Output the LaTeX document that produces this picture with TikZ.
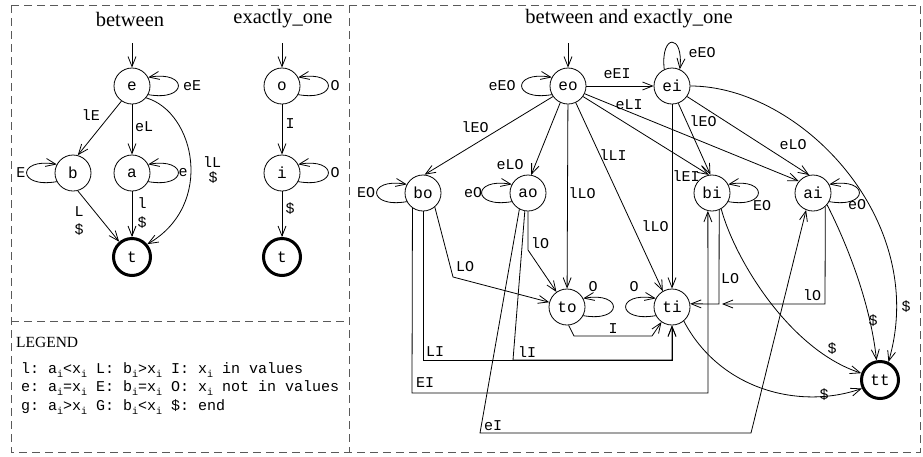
\documentclass[tikz,border=0pt]{standalone}
\usepackage{fontspec}
\setmainfont{Liberation Serif}
\setmonofont{Liberation Mono}
\usetikzlibrary{arrows.meta}
\newcommand\sbi{\raisebox{-0.45ex}{\fontsize{10}{10}\selectfont i}}
\newcommand\loopR[1]{\draw[arr] (#1.-28) .. controls +(40,7) and +(40,-7) .. (#1.28);}
\newcommand\loopL[1]{\draw[arr] (#1.-152) .. controls +(-40,7) and +(-40,-7) .. (#1.152);}
\begin{document}
\begin{tikzpicture}[x=1pt,y=-1pt,
  st/.style={circle,draw,line width=0.8pt,minimum size=36pt,inner sep=0pt,font=\fontsize{16}{16}\selectfont\ttfamily},
  fin/.style={st,line width=3pt,minimum size=37pt},
  lab/.style={inner sep=0pt,font=\fontsize{15}{15}\selectfont\ttfamily},
  ttl/.style={inner sep=0pt,font=\fontsize{20.5}{20.5}\selectfont},
  arr/.style={-{Straight Barb[length=10pt,width=8pt]},line width=0.8pt},
  frame/.style={dash pattern=on 8pt off 5pt,line width=0.9pt,black!65},
]
\useasboundingbox (0,0) rectangle (923,456);
% frame
\draw[frame] (11,5) rectangle (920,452);
\draw[frame] (349,5) -- (349,452);
\draw[frame] (11,321) -- (349,321);
% titles
\node[ttl] (T1) at (130,19) {between};
\node[ttl] (T2) at (283,19) {exactly\_one};
\node[ttl] (T3) at (629,19) {between and exactly\_one};
% left automata
\node[st] (e) at (132,86) {e};
\node[st] (b) at (73,173) {b};
\node[st] (a) at (132,173) {a};
\node[fin] (t) at (132,257) {t};
\node[st] (o) at (282,86) {o};
\node[st] (i) at (282,173) {i};
\node[fin] (t2) at (282,257) {t};
\coordinate (ie) at (132,43);
\coordinate (io) at (282,43);
\draw[arr] (ie) -- (e);
\draw[arr] (io) -- (o);
\loopR{e} \loopL{b} \loopR{a} \loopR{o} \loopR{i}
\draw[arr] (e.-125) -- (b.75);
\draw[arr] (e) -- (a);
\draw[arr] (e.-40) .. controls (195,112) and (215,205) .. (t.40);
\draw[arr] (b.-75) -- (t.130);
\draw[arr] (a) -- (t);
\draw[arr] (o) -- (i);
\draw[arr] (i) -- (t2);
\node[lab] (l1) at (192,86) {eE};
\node[lab] (l2) at (91,115) {lE};
\node[lab] (l3) at (144,127) {eL};
\node[lab] (l4) at (212,162) {lL};
\node[lab] (l5) at (213,178) {\$};
\node[lab] (l6) at (21,173) {E};
\node[lab] (l7) at (183,173) {e};
\node[lab] (l8) at (79,212) {L};
\node[lab] (l9) at (79,230) {\$};
\node[lab] (l10) at (142,203) {l};
\node[lab] (l11) at (142,223) {\$};
\node[lab] (l12) at (335,86) {O};
\node[lab] (l13) at (290,124) {I};
\node[lab] (l14) at (335,173) {O};
\node[lab] (l15) at (290,209) {\$};
% legend
\node[anchor=west,inner sep=0pt,font=\fontsize{15.5}{15.5}\selectfont] (LG) at (16,342) {LEGEND};
\node[lab,anchor=west] (LG1) at (21,370) {l: a\sbi<x\sbi{} L: b\sbi>x\sbi{} I: x\sbi{} in values};
\node[lab,anchor=west] (LG2) at (21,388) {e: a\sbi=x\sbi{} E: b\sbi=x\sbi{} O: x\sbi{} not in values};
\node[lab,anchor=west] (LG3) at (21,407) {g: a\sbi>x\sbi{} G: b\sbi<x\sbi{} \$: end};
% right automaton
\node[st] (eo) at (568,86) {eo};
\node[st] (ei) at (672,86) {ei};
\node[st] (bo) at (423,193) {bo};
\node[st] (ao) at (528,193) {ao};
\node[st] (bi) at (712,193) {bi};
\node[st] (ai) at (813,193) {ai};
\node[st] (to) at (567,307) {to};
\node[st] (ti) at (672,307) {ti};
\node[fin] (tt) at (880,380) {tt};
\coordinate (ieo) at (568,43);
\draw[arr] (ieo) -- (eo);
\loopL{eo} \loopL{bo} \loopL{ao} \loopR{bi} \loopR{ai} \loopR{to} \loopL{ti}
\draw[arr] (ei.115) .. controls +(-4,-36) and +(4,-36) .. (ei.65);
\draw[arr] (eo) -- (ei);
\draw[arr] (eo.-145) -- (bo.85);
\draw[arr] (eo.-115) -- (ao.80);
\draw[arr] (eo) -- (to);
\draw[arr] (eo.-65) -- (ti.120);
\draw[arr] (eo.-35) -- (bi.100);
\draw[arr] (eo.-25) -- (ai.140);
\draw[arr] (ei.-70) -- (bi.95);
\draw[arr] (ei.-35) -- (ai.102);
\draw[arr] (ei) -- (ti);
\draw[arr] (ei.0) .. controls (800,86) and (930,220) .. (tt.65);
\draw[arr] (ai.-40) .. controls (845,240) and (870,300) .. (tt.100);
\draw[arr] (bi.-60) .. controls (735,260) and (790,350) .. (tt.160);
\draw[arr] (ti.-50) .. controls (720,390) and (800,410) .. (tt.205);
\draw[arr] (to.-85) -- (574,336) -- (652,336) -- (ti.-125);
\draw[arr] (bo.-50) -- (453,277) -- (to.165);
\draw[arr] (ao.-90) -- (528,250) -- (to.125);
\draw[arr] (bo.-90) -- (423,360) -- (672,360) -- (ti.-90);
\draw[arr] (ao.-100) -- (513,360) -- (672,360) -- (ti.-90);
\draw[arr] (bo.-125) -- (412,393) -- (708,393) -- (bi.-103);
\draw[arr] (ao.-118) -- (480,433) -- (751,433) -- (ai.-112);
\draw[arr] (bi.-67) -- (719,304) -- (ti.10);
\coordinate (lOe) at (722,304);
\draw[arr] (ai.-48) -- (825,304) -- (lOe);
\node[lab] (r1) at (502,86) {eEO};
\node[lab] (r2) at (617,74) {eEI};
\node[lab] (r3) at (629,105) {eLI};
\node[lab] (r4) at (702,53) {eEO};
\node[lab] (r5) at (475,127) {lEO};
\node[lab] (r6) at (703,121) {lEO};
\node[lab] (r7) at (793,145) {eLO};
\node[lab] (r8) at (613,155) {lLI};
\node[lab] (r9) at (510,165) {eLO};
\node[lab] (r10) at (366,193) {EO};
\node[lab] (r11) at (473,193) {eO};
\node[lab] (r12) at (582,193) {lLO};
\node[lab] (r13) at (686,176) {lEI};
\node[lab] (r14) at (655,226) {lLO};
\node[lab] (r15) at (762,206) {EO};
\node[lab] (r16) at (857,205) {eO};
\node[lab] (r17) at (540,243) {lO};
\node[lab] (r18) at (465,267) {LO};
\node[lab] (r19) at (593,287) {O};
\node[lab] (r20) at (634,287) {O};
\node[lab] (r21) at (730,279) {LO};
\node[lab] (r22) at (812,295) {lO};
\node[lab] (r23) at (613,329) {I};
\node[lab] (r24) at (435,352) {LI};
\node[lab] (r25) at (527,352) {lI};
\node[lab] (r26) at (425,383) {EI};
\node[lab] (r27) at (493,426) {eI};
\node[lab] (r28) at (906,307) {\$};
\node[lab] (r29) at (873,321) {\$};
\node[lab] (r30) at (832,349) {\$};
\node[lab] (r31) at (824,395) {\$};
\end{tikzpicture}
\end{document}
